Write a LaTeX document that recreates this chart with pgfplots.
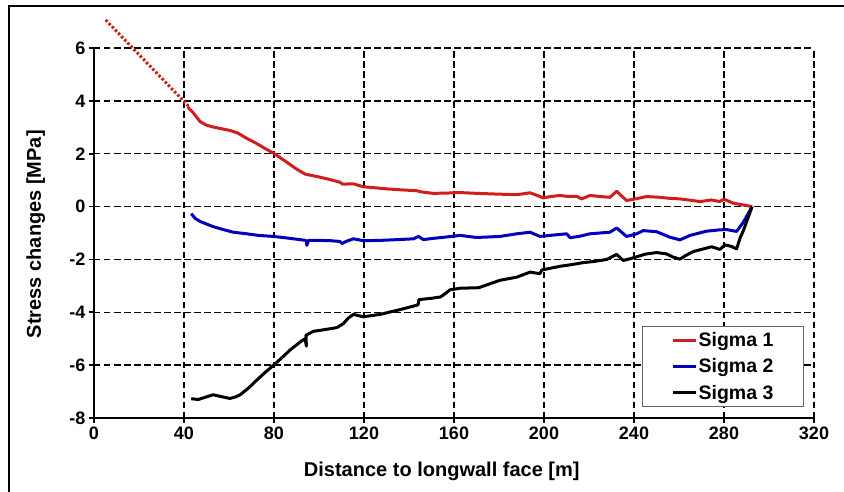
\documentclass[border=0pt]{standalone}
\usepackage{pgfplots}
\pgfplotsset{compat=1.18}
\usepackage{fontspec}
\setmainfont{Liberation Sans}
\definecolor{mred}{RGB}{208,30,30}
\definecolor{mblue}{RGB}{0,0,190}
\begin{document}
\begin{tikzpicture}
\useasboundingbox (0,0) rectangle (844pt,491pt);
\fill[white] (0,0) rectangle (844pt,491pt);
\draw[line width=1.5pt] (9pt,-5pt) -- (9pt,485pt) -- (850pt,485pt);
\begin{axis}[
  at={(94pt,73pt)}, anchor=south west, scale only axis,
  width=720pt, height=370pt,
  xmin=0, xmax=320, ymin=-8, ymax=6,
  xtick={0,40,...,320}, ytick={-8,-6,...,6},
  axis x line=bottom, axis y line=left,
  axis line style={-, line width=2pt},
  grid=major,
  major grid style={black, line width=1.4pt, dash pattern=on 6.5pt off 3.5pt},
  tick align=outside, major tick length=5pt,
  tick style={black, line width=1.6pt},
  /pgf/number format/assume math mode=true,
  tick label style={font=\fontsize{18}{20}\selectfont\bfseries},
  xlabel={Distance to longwall face [m]},
  ylabel={Stress changes [MPa]},
  label style={font=\fontsize{20}{22}\selectfont\bfseries},
  xlabel style={at={(axis description cs:0.483,-0.143)}, anchor=center},
  ylabel style={at={(axis description cs:-0.081,0.497)}, anchor=center},
  clip=false,
  legend style={at={(0.986,0.0297)}, anchor=south east, draw=gray!80!black, line width=1pt,
    font=\fontsize{19.5}{21}\selectfont\bfseries, inner xsep=29pt, inner ysep=5pt,
    row sep=8.5pt, cells={anchor=west}, nodes={inner sep=1pt}},
  legend image code/.code={\draw[#1, line width=3pt] (0pt,0pt) -- (23pt,0pt);},
  every axis plot/.append style={line width=3pt, line join=round},
]
\addplot[mred, forget plot, line width=3pt, dash pattern=on 2.5pt off 2pt] coordinates {(5.2,7.06) (42,3.80)};
\addplot[mred] coordinates {
(41.6,3.77) (44.1,3.55) (47.1,3.22) (50,3.08) (53,3.01) (57,2.94) (60.4,2.88) (64,2.78) (67.5,2.6) (72,2.40) (76,2.2) (80.2,2.0) (85,1.72) (90,1.42) (93.8,1.23) (100,1.12) (105,1.02) (109.3,0.92) (110.5,0.85) (115.3,0.86) (119.7,0.75) (125,0.71) (130,0.67) (137,0.63) (143.4,0.60) (145,0.56) (150.8,0.50) (156.7,0.51) (162.7,0.53) (170,0.50) (180,0.47) (187.9,0.45) (193.8,0.52) (197,0.42) (199.7,0.33) (203,0.38) (207.1,0.42) (211,0.38) (214.5,0.39) (216.7,0.29) (220.4,0.42) (225,0.38) (229.3,0.35) (232.3,0.58) (234.5,0.40) (236.7,0.23) (241.2,0.30) (245.6,0.38) (251.6,0.35) (256,0.31) (260.4,0.29) (265,0.24) (269.3,0.19) (274.5,0.25) (278,0.19) (280,0.28) (284.1,0.13) (288.6,0.06) (292.5,0)
};
\addlegendentry{Sigma 1}
\addplot[mblue] coordinates {
(43.2,-0.27) (45,-0.45) (47.1,-0.56) (50,-0.66) (53,-0.76) (57,-0.86) (61.9,-0.97) (67.9,-1.03) (73,-1.09) (79.7,-1.13) (86,-1.19) (92.3,-1.26) (94.3,-1.28) (94.6,-1.47) (95.3,-1.28) (100,-1.28) (105,-1.29) (109.3,-1.32) (110.2,-1.40) (112,-1.32) (115.3,-1.22) (119.7,-1.29) (127,-1.28) (135,-1.25) (142,-1.22) (144.2,-1.13) (146.4,-1.25) (150,-1.21) (156.7,-1.15) (162.7,-1.09) (170,-1.17) (180.4,-1.13) (187.9,-1.03) (193.8,-0.97) (198.2,-1.13) (202.7,-1.09) (210.1,-1.03) (211.6,-1.18) (216,-1.12) (220.4,-1.03) (229.3,-0.97) (232.3,-0.81) (236.7,-1.13) (241.2,-1.03) (244.1,-0.91) (250,-0.95) (256,-1.16) (260.4,-1.26) (264.9,-1.09) (272.3,-0.93) (278.2,-0.88) (281.2,-0.87) (285.6,-0.94) (288.6,-0.59) (292.5,0)
};
\addlegendentry{Sigma 2}
\addplot[black] coordinates {
(43.2,-7.27) (46.4,-7.30) (50,-7.20) (53,-7.12) (56,-7.18) (60.4,-7.26) (63,-7.2) (65,-7.12) (68.5,-6.88) (72.3,-6.57) (76,-6.28) (80.4,-5.96) (84,-5.68) (87.1,-5.43) (92.3,-5.08) (93.8,-5.0) (94.4,-5.28) (94.2,-4.87) (97.5,-4.72) (103,-4.65) (107.9,-4.58) (110.8,-4.43) (113,-4.22) (115.3,-4.08) (119.7,-4.17) (127.1,-4.08) (136,-3.90) (144,-3.72) (144.4,-3.52) (150,-3.47) (154,-3.42) (156,-3.3) (158.2,-3.15) (162.7,-3.09) (171,-3.07) (175,-2.95) (180.4,-2.79) (187.9,-2.67) (193.8,-2.48) (198.2,-2.54) (199,-2.40) (203,-2.33) (207.1,-2.26) (212,-2.2) (217.5,-2.12) (222,-2.08) (227.9,-2.0) (232.3,-1.81) (235.2,-2.04) (238,-1.98) (241.2,-1.90) (245,-1.80) (250,-1.74) (254.4,-1.79) (257,-1.9) (260.4,-1.99) (263,-1.85) (266.4,-1.70) (270,-1.62) (274.5,-1.52) (278.2,-1.62) (280.4,-1.45) (283,-1.5) (285.6,-1.60) (287.1,-1.20) (288.6,-0.91) (292.5,0)
};
\addlegendentry{Sigma 3}
\end{axis}
\end{tikzpicture}
\end{document}
